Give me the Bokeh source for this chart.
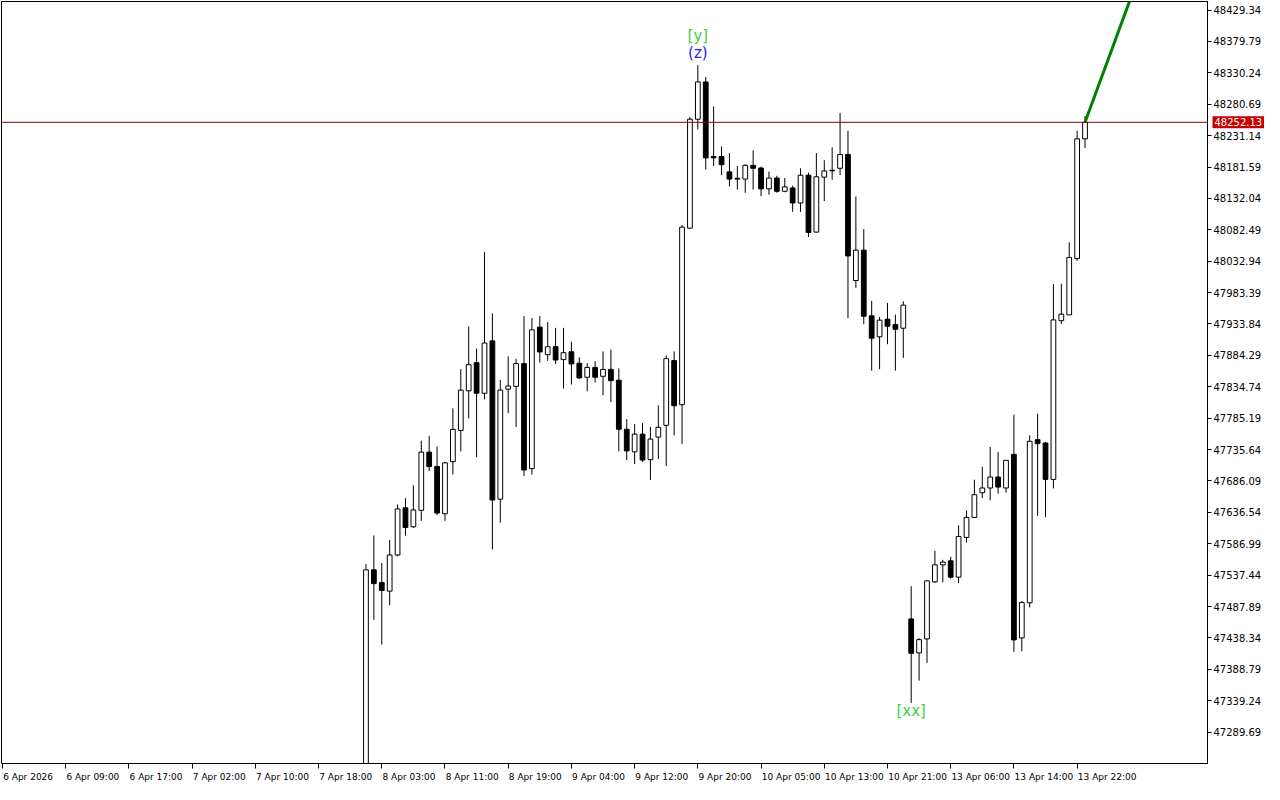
from bokeh.plotting import figure
from bokeh.models import (Range1d, LinearAxis, FixedTicker, PrintfTickFormatter,
                          Span, ColumnDataSource)
from bokeh.core.properties import value
from bokeh.embed import file_html
from bokeh.resources import INLINE

# ---------------- data (hourly bars, index = bar number on the time axis) ----------------
bar_index = list(range(46, 138))

opens = [47180.0, 47545.8, 47525.7, 47512.2, 47569.2, 47643.7, 47613.8, 47639.8, 47731.6, 47708.9,
         47634.4, 47716.5, 47765.9, 47828.4, 47872.8, 47824.5, 47907.2, 47657.3, 47831.0, 47835.4,
         47871.3, 47705.6, 47928.9, 47885.4, 47898.2, 47877.6, 47890.0, 47871.9, 47849.8, 47865.3,
         47851.3, 47862.2, 47845.1, 47767.7, 47732.1, 47760.0, 47719.7, 47755.3, 47773.9, 47876.1,
         47806.4, 48085.1, 48257.0, 48315.8, 48198.1, 48198.1, 48173.9, 48163.8, 48162.5, 48184.2,
         48180.0, 48147.1, 48164.1, 48143.3, 48148.6, 48124.8, 48168.7, 48078.9, 48165.6, 48176.5,
         48179.6, 48201.3, 48002.4, 48050.4, 47946.7, 47913.6, 47941.4, 47932.9, 47927.2, 47468.4,
         47414.7, 47436.8, 47526.9, 47553.7, 47560.0, 47534.3, 47597.0, 47628.5, 47667.5, 47675.0,
         47692.3, 47675.0, 47728.1, 47438.4, 47493.8, 47751.3, 47746.0, 47688.6, 47939.0, 47948.2,
         48037.1, 48226.0]
highs = [47555.1, 47600.1, 47556.7, 47593.2, 47649.0, 47658.9, 47679.0, 47749.6, 47757.3, 47740.3,
         47716.5, 47800.7, 47862.6, 47930.0, 47895.1, 48047.3, 47950.6, 47845.7, 47882.8, 47878.9,
         47946.2, 47943.1, 47946.2, 47937.0, 47927.7, 47927.7, 47906.0, 47881.2, 47871.9, 47875.0,
         47890.5, 47893.6, 47863.7, 47783.6, 47775.9, 47777.4, 47771.3, 47805.3, 47884.3, 47890.5,
         48090.2, 48260.6, 48342.2, 48323.6, 48277.1, 48214.1, 48203.7, 48183.1, 48185.8, 48207.9,
         48182.0, 48174.3, 48167.7, 48164.1, 48152.2, 48179.6, 48172.7, 48203.7, 48192.4, 48212.6,
         48266.8, 48238.9, 48135.1, 48083.6, 47970.4, 47945.0, 47967.1, 47948.7, 47969.7, 47520.1,
         47438.0, 47529.0, 47575.9, 47561.6, 47566.4, 47616.0, 47639.7, 47688.1, 47708.6, 47739.7,
         47731.8, 47719.0, 47790.8, 47496.5, 47758.1, 47792.3, 47747.6, 47996.7, 47997.3, 48062.8,
         48238.9, 48262.1]
lows = [47160.0, 47467.0, 47428.0, 47490.0, 47567.0, 47599.7, 47612.0, 47623.0, 47701.7, 47632.2,
        47623.0, 47696.3, 47732.7, 47784.9, 47723.6, 47814.8, 47577.9, 47620.3, 47793.0, 47771.3,
        47694.1, 47696.3, 47872.8, 47875.6, 47870.8, 47832.1, 47838.3, 47847.0, 47827.5, 47841.4,
        47821.3, 47810.4, 47733.0, 47719.1, 47712.9, 47716.0, 47687.7, 47720.6, 47709.8, 47757.8,
        47744.5, 48084.0, 48240.9, 48177.4, 48183.1, 48168.7, 48151.1, 48146.0, 48140.9, 48146.0,
        48135.6, 48137.8, 48141.0, 48141.8, 48110.8, 48110.8, 48071.2, 48078.0, 48127.9, 48161.5,
        48168.7, 47943.1, 47991.0, 47933.5, 47860.3, 47862.5, 47902.0, 47860.3, 47880.3, 47335.7,
        47371.0, 47398.9, 47525.0, 47526.0, 47532.0, 47524.8, 47589.0, 47628.0, 47659.2, 47655.4,
        47666.0, 47667.5, 47416.4, 47417.3, 47486.4, 47631.1, 47629.0, 47674.3, 47933.8, 47948.0,
        48033.4, 48211.5]
closes = [47545.8, 47524.1, 47513.3, 47569.2, 47642.0, 47612.7, 47640.4, 47731.6, 47708.9, 47635.5,
          47714.7, 47767.5, 47829.5, 47869.6, 47824.5, 47903.8, 47656.1, 47829.5, 47836.0, 47871.3,
          47703.4, 47924.6, 47889.7, 47897.9, 47877.0, 47888.5, 47870.8, 47848.7, 47865.3, 47849.8,
          47862.2, 47844.5, 47767.7, 47733.6, 47760.0, 47719.1, 47752.2, 47770.8, 47879.2, 47804.9,
          48086.7, 48257.0, 48315.8, 48196.0, 48196.0, 48185.2, 48162.5, 48162.5, 48184.2, 48179.6,
          48147.1, 48164.1, 48143.3, 48150.2, 48124.8, 48168.7, 48078.3, 48166.1, 48175.4, 48175.5,
          48201.3, 48041.2, 48050.4, 47946.1, 47911.4, 47939.9, 47930.3, 47925.6, 47963.6, 47414.2,
          47435.7, 47528.5, 47553.7, 47558.0, 47534.3, 47598.5, 47628.5, 47664.4, 47675.0, 47692.3,
          47676.5, 47718.6, 47435.3, 47494.3, 47748.7, 47745.0, 47688.6, 47940.3, 47949.3, 48038.7,
          48226.0, 48252.13]

time_labels = ["6 Apr 2026", "6 Apr 09:00", "6 Apr 17:00", "7 Apr 02:00", "7 Apr 10:00",
               "7 Apr 18:00", "8 Apr 03:00", "8 Apr 11:00", "8 Apr 19:00", "9 Apr 04:00",
               "9 Apr 12:00", "9 Apr 20:00", "10 Apr 05:00", "10 Apr 13:00", "10 Apr 21:00",
               "13 Apr 06:00", "13 Apr 14:00", "13 Apr 22:00"]
time_label_bars = [0, 8, 16, 24, 32, 40, 48, 56, 64, 72, 80, 88, 96, 104, 112, 120, 128, 136]

y_ticks = [47289.69, 47339.24, 47388.79, 47438.34, 47487.89, 47537.44, 47586.99, 47636.54,
           47686.09, 47735.64, 47785.19, 47834.74, 47884.29, 47933.84, 47983.39, 48032.94,
           48082.49, 48132.04, 48181.59, 48231.14, 48280.69, 48330.24, 48379.79, 48429.34]

current_price = 48252.13
trend_x = [137, 147]
trend_y = [48252.13, 48591.0]

wave_labels = ["[y]", "(z)", "[xx]"]
wave_bars = [88, 88, 115]

# ---------------- figure ----------------
W, H = 1264, 784
X0, X1 = -0.125, 152.5
p = figure(width=W, height=H, output_backend="svg", toolbar_location=None,
           x_range=Range1d(X0, X1), y_range=Range1d(47240.2, 48442.8),
           x_axis_location=None, y_axis_location=None,
           min_border_left=1, min_border_top=1, min_border_right=0, min_border_bottom=0)
p.background_fill_color = "white"
p.border_fill_color = "white"
p.outline_line_color = "black"
p.outline_line_width = 1
p.xgrid.grid_line_color = None
p.ygrid.grid_line_color = None

AX_FONT = "DejaVu Sans"

# right price axis
yax = LinearAxis(ticker=FixedTicker(ticks=y_ticks, minor_ticks=[]),
                 formatter=PrintfTickFormatter(format="%.2f"))
yax.major_tick_in = 0
yax.major_tick_out = 4
yax.major_tick_line_color = "black"
yax.minor_tick_line_color = None
yax.axis_line_color = "black"
yax.major_label_standoff = 2
yax.major_label_text_font = AX_FONT
yax.major_label_text_font_size = "10px"
yax.major_label_text_color = "black"
p.add_layout(yax, "right")

# bottom time axis: tick marks at the bars, label text starting at the tick (left aligned)
char_w = {"A": 0.684, "p": 0.635, "r": 0.411, " ": 0.318, ":": 0.337}
fs = 9.0
px_per_bar = (W - 1 - 65) / (X1 - X0)
label_pos = []
overrides = {}
for b, lab in zip(time_label_bars, time_labels):
    w = sum(char_w.get(ch, 0.636) for ch in lab) * fs
    pos = round(b + (w / 2 + 0.5) / px_per_bar, 4)
    label_pos.append(pos)
    overrides[pos] = lab

xax = LinearAxis(ticker=FixedTicker(ticks=label_pos, minor_ticks=time_label_bars))
xax.major_label_overrides = overrides
xax.major_tick_line_color = None
xax.major_tick_in = 0
xax.major_tick_out = 0
xax.minor_tick_in = 0
xax.minor_tick_out = 5
xax.minor_tick_line_color = "black"
xax.axis_line_color = "black"
xax.major_label_standoff = 3
xax.major_label_text_font = AX_FONT
xax.major_label_text_font_size = "9px"
xax.major_label_text_color = "black"
p.add_layout(xax, "below")

# ---------------- candles ----------------
up = dict(x=[], top=[], bottom=[])
dn = dict(x=[], top=[], bottom=[])
for b, o, c in zip(bar_index, opens, closes):
    if c >= o:
        up["x"].append(b); up["top"].append(c); up["bottom"].append(o)
    else:
        dn["x"].append(b); dn["top"].append(o); dn["bottom"].append(c)

p.segment(x0=bar_index, y0=lows, x1=bar_index, y1=highs, line_color="black", line_width=1)
p.vbar(x="x", top="top", bottom="bottom", width=0.6, source=ColumnDataSource(up),
       fill_color="white", line_color="black", line_width=1)
p.vbar(x="x", top="top", bottom="bottom", width=0.6, source=ColumnDataSource(dn),
       fill_color="black", line_color="black", line_width=1)

# current price line
p.add_layout(Span(location=current_price, dimension="width", line_color="#8b0000", line_width=1))

# trend line
p.line(trend_x, trend_y, line_color="#008000", line_width=3)

# wave labels
hi_of = dict(zip(bar_index, highs))
lo_of = dict(zip(bar_index, lows))
wave_cols = ["#3fcf3f", "#2323ff", "#3fcf3f"]
wave_offsets = [-29, -12, 8]
for lab, b, col, off in zip(wave_labels, wave_bars, wave_cols, wave_offsets):
    yv = lo_of[b] if off > 0 else hi_of[b]
    p.text(x=[b], y=[yv], text=[lab], text_color=col, text_font=value("DejaVu Sans"),
           text_font_size="15px", text_align="center", text_baseline="middle", y_offset=off)

# price tag on the axis (overlay level so it may sit outside the frame)
tag_kw = dict(x=[X1], y=[current_price], text=["%.2f" % current_price], text_color="white",
              text_font=value(AX_FONT), text_font_size="10px", text_align="left",
              text_baseline="middle", x_offset=5)
try:
    tag = p.text(background_fill_color="#c40000", padding=2, **tag_kw)
except Exception:
    box = p.rect(x=[X1], y=[current_price], width=46, height=13, width_units="screen",
                 height_units="screen", fill_color="#c40000", line_color=None)
    box.level = "overlay"
    tag = p.text(**tag_kw)
tag.level = "overlay"

open("out.html", "w").write(file_html(p, INLINE))
